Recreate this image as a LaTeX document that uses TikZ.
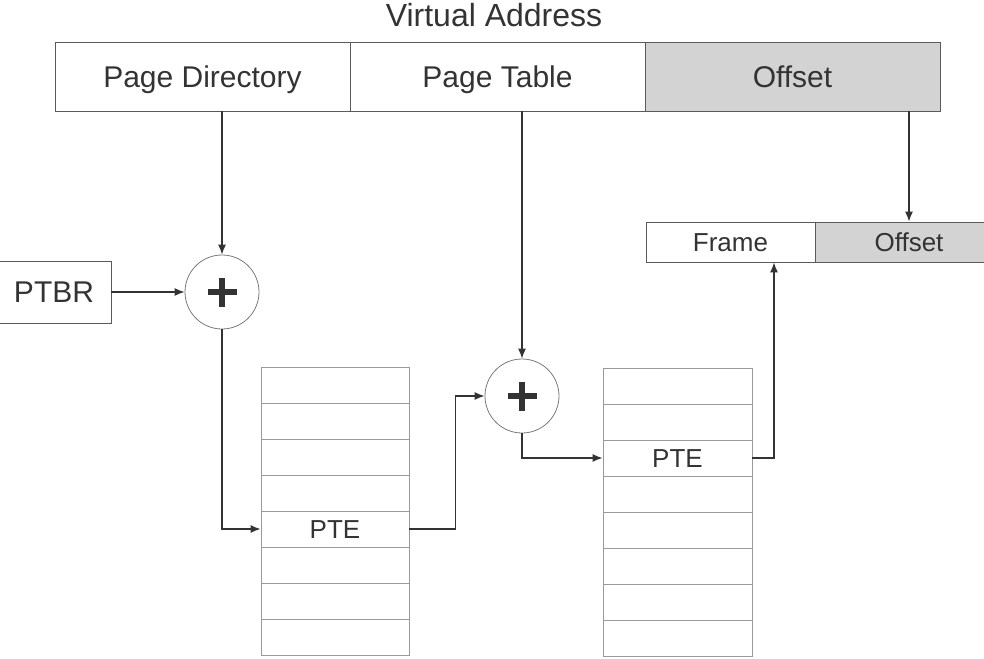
\documentclass[tikz,border=0pt]{standalone}
\usepackage{fontspec}
\setmainfont{Liberation Sans}
\usetikzlibrary{arrows.meta}
\definecolor{ink}{HTML}{333333}
\definecolor{frameline}{HTML}{5A5A5A}
\definecolor{cellline}{HTML}{9A9A9A}
\definecolor{shade}{HTML}{D3D3D3}

\begin{document}
\begin{tikzpicture}[x=1bp,y=-1bp,
  txt/.style={text=ink, text depth=0pt, inner sep=0pt},
  big/.style={font=\fontsize{30bp}{36bp}\selectfont, text height=21.5bp},
  mid/.style={font=\fontsize{26bp}{30bp}\selectfont, text height=18.6bp},
  field/.style={txt, big, draw=frameline, line width=0.9bp, minimum height=69bp},
  small/.style={txt, mid, draw=frameline, line width=0.9bp, minimum height=40bp},
  cell/.style={txt, mid, draw=cellline, line width=0.9bp, minimum height=36bp},
  adder/.style={circle, draw=frameline!80, line width=0.8bp, minimum size=74bp, inner sep=0pt},
  plus/.style={draw=ink, line width=5.5bp},
  arr/.style={draw=ink, line width=1.2bp, -{Latex[length=10bp,width=8bp]}},
]
\useasboundingbox (0,0) rectangle (984,659);

% virtual address
\node[txt, font=\fontsize{32bp}{38bp}\selectfont, text height=23bp] (title) at (494,15) {Virtual Address};
\node[field, minimum width=295bp] (pd) at (202.5,76.5) {Page Directory};
\node[field, minimum width=295bp] (pt) at (497.5,76.5) {Page Table};
\node[field, minimum width=295bp, fill=shade] (off) at (792.5,76.5) {Offset};

% page table base register
\node[txt, big, draw=frameline, line width=0.9bp, minimum width=114bp, minimum height=62bp] (ptbr) at (54,292) {PTBR};

% adders
\node[adder] (add1) at (222,292) {};
\node[adder] (add2) at (522,396) {};
\foreach \a in {add1,add2}{
  \draw[plus] (\a.center) ++(-14.5,0) -- ++(29,0);
  \draw[plus] (\a.center) ++(0,-14.5) -- ++(0,29);
}

% page directory and page table
\foreach \i in {1,...,8}{
  \node[cell, minimum width=148bp] (t1r\i) at (335,349+36*\i) {\ifnum\i=5 PTE\fi};
  \node[cell, minimum width=149bp] (t2r\i) at (677.5,350+36*\i) {\ifnum\i=3 PTE\fi};
}

% physical address
\node[small, minimum width=169bp] (frame) at (730.5,242) {Frame};
\node[small, minimum width=188bp, fill=shade] (offs) at (909,242) {Offset};

% connectors
\draw[arr] (pd.south -| add1) -- (add1.north);
\draw[arr] (pt.south -| add2) -- (add2.north);
\draw[arr] (off.south -| offs) -- (offs.north);
\draw[arr] (ptbr.east) -- (add1.west);
\draw[arr] (add1.south) |- (t1r5.west);
\draw[arr] (t1r5.east) -- ++(46,0) |- (add2.west);
\draw[arr] (add2.south) |- (t2r3.west);
\draw[arr] (t2r3.east) -| ([xshift=43.5bp]frame.south);
\end{tikzpicture}
\end{document}
